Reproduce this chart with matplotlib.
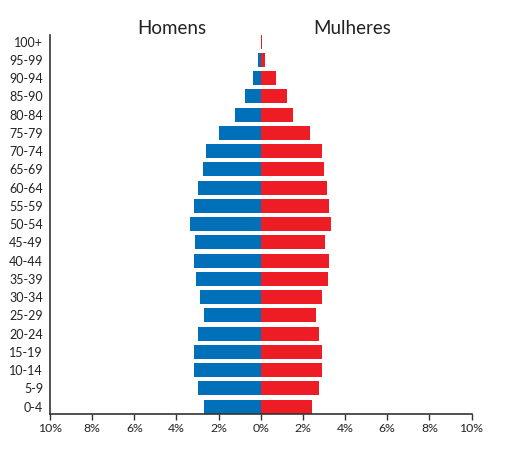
import numpy as np
import matplotlib.pyplot as plt

# age groups, bottom to top
ages = ['0-4', '5-9', '10-14', '15-19', '20-24', '25-29', '30-34', '35-39',
        '40-44', '45-49', '50-54', '55-59', '60-64', '65-69', '70-74',
        '75-79', '80-84', '85-90', '90-94', '95-99', '100+']

# percent of population
homens = [2.67, 2.96, 3.19, 3.15, 2.96, 2.67, 2.86, 3.05, 3.15, 3.10, 3.34,
          3.19, 3.00, 2.72, 2.58, 1.96, 1.20, 0.77, 0.35, 0.13, 0.0]
mulheres = [2.45, 2.74, 2.92, 2.92, 2.78, 2.64, 2.92, 3.21, 3.26, 3.07, 3.35,
            3.26, 3.16, 3.02, 2.92, 2.36, 1.55, 1.26, 0.74, 0.22, 0.08]

xticks = [-10, -8, -6, -4, -2, 0, 2, 4, 6, 8, 10]
xlabels = [f'{abs(t)}%' for t in xticks]

plt.rcParams['font.family'] = ['Lato', 'DejaVu Sans']

fig = plt.figure(figsize=(5.21, 4.66), dpi=100)
ax = fig.add_axes([0.096, 0.111, 0.809, 0.814])

y = np.arange(len(ages))
ax.barh(y, -np.array(homens), height=0.77, color='#0070b8', linewidth=0)
ax.barh(y, mulheres, height=0.77, color='#ee1c25', linewidth=0)

ax.set_xlim(-10, 10)
ax.set_ylim(-0.42, 20.37)
ax.set_yticks(y)
ax.set_yticklabels(ages, fontsize=9, color='#222222')
ax.set_xticks(xticks)
ax.set_xticklabels(xlabels, fontsize=8.8, color='#222222')
ax.tick_params(axis='y', length=0, pad=5)
ax.tick_params(axis='x', length=4, width=1, color='#333333', pad=2)

for s in ['top', 'right']:
    ax.spines[s].set_visible(False)
for s in ['left', 'bottom']:
    ax.spines[s].set_color('#333333')
    ax.spines[s].set_linewidth(1.2)

ax.text(-4.2, 20.43, 'Homens', ha='center', va='baseline', fontsize=13.5, color='#222222')
ax.text(4.35, 20.43, 'Mulheres', ha='center', va='baseline', fontsize=13.5, color='#222222')

fig.savefig('out.png', dpi=100)
